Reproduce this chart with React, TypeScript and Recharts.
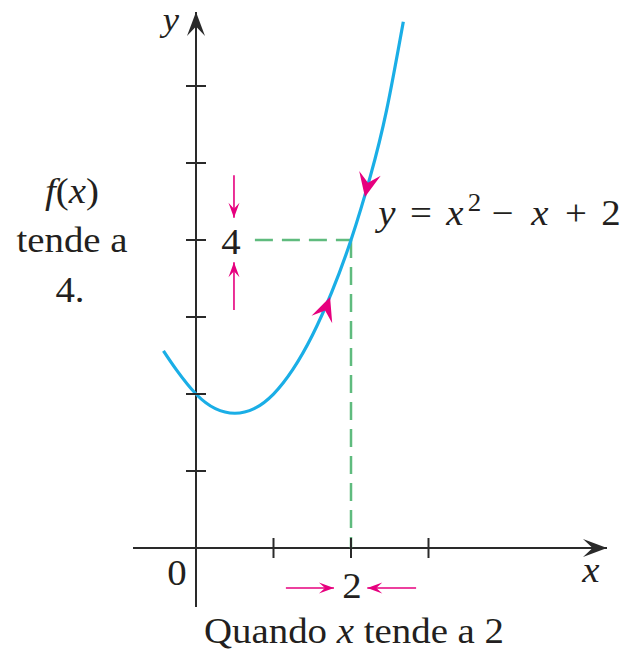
import React from "react";
import { LineChart, Line, XAxis, YAxis, ReferenceLine, ReferenceDot } from "recharts";

// curve y = x^2 - x + 2
const curveX = [-0.42, -0.25, 0, 0.25, 0.5, 0.75, 1.0, 1.25, 1.5, 1.75, 2.0, 2.25, 2.46, 2.675];
const curveY = [2.56, 2.31, 2.0, 1.81, 1.75, 1.81, 2.0, 2.32, 2.76, 3.32, 4.0, 4.83, 5.69, 6.835];
const xTicks = [1, 2, 3];
const yTicks = [1, 2, 3, 4, 5, 6];
const limitX = 2;
const limitY = 4;
const guideStartX = 0.76;
// arrowheads on the curve: [x, y, angle]
const curveArrows: [number, number, number][] = [
  [1.73, 3.26, -70],
  [2.18, 4.56, 102],
];
// straight magenta arrows: [fromX, fromY, toX, toY, angle]
const pinkArrows: [number, number, number, number, number][] = [
  [0.49, 4.84, 0.49, 4.29, 90],
  [0.49, 3.09, 0.49, 3.71, -90],
  [1.16, -0.52, 1.78, -0.52, 0],
  [2.84, -0.52, 2.21, -0.52, 180],
];
const xDomain: [number, number] = [-0.8129, 5.3032];
const yDomain: [number, number] = [-0.766, 6.961];

const data = curveX.map((x, i) => ({ x, y: curveY[i] }));

const BLUE = "#1aaee6";
const PINK = "#e6007e";
const GREEN = "#5fbb7e";
const AXIS = "#2a2a2a";
const FONT = "Liberation Serif";

const head = (L: number, W: number, color: string, angle: number) => (p: any) => {
  const { cx, cy } = p;
  if (cx == null || cy == null) return <g />;
  return (
    <path
      d={`M0,0 L${-L},${-W / 2} L${-0.6 * L},0 L${-L},${W / 2} Z`}
      fill={color}
      transform={`translate(${cx},${cy}) rotate(${angle})`}
    />
  );
};

const tickShape = (vertical: boolean) => (p: any) => {
  const { cx, cy } = p;
  if (cx == null || cy == null) return <g />;
  return vertical ? (
    <line x1={cx} x2={cx} y1={cy - 10} y2={cy + 10} stroke={AXIS} strokeWidth={2} />
  ) : (
    <line x1={cx - 10} x2={cx + 10} y1={cy} y2={cy} stroke={AXIS} strokeWidth={2} />
  );
};

const T = ({ x, y, children, anchor = "middle", size = 36, italic = false }: any) => (
  <text
    transform={`translate(${x},${y}) scale(1.08,1)`}
    x={0}
    y={0}
    textAnchor={anchor}
    style={{ fontFamily: FONT, fontSize: size, fontStyle: italic ? "italic" : "normal" }}
    fill="#231f20"
  >
    {children}
  </text>
);

export default function App() {
  return (
    <div style={{ position: "absolute", left: 0, top: 0, width: 623, height: 653, background: "#fff" }}>
      <LineChart
        width={623}
        height={653}
        data={data}
        margin={{ top: 12, right: 16, bottom: 46, left: 133 }}
      >
        <XAxis dataKey="x" type="number" domain={xDomain} allowDataOverflow hide />
        <YAxis type="number" domain={yDomain} allowDataOverflow hide />
        <ReferenceLine y={0} stroke={AXIS} strokeWidth={2} ifOverflow="visible" />
        <ReferenceLine x={0} stroke={AXIS} strokeWidth={2} ifOverflow="visible" />
        <ReferenceDot x={xDomain[1]} y={0} r={0} ifOverflow="visible" shape={head(24, 18, AXIS, 0)} />
        <ReferenceDot x={0} y={yDomain[1]} r={0} ifOverflow="visible" shape={head(24, 18, AXIS, -90)} />
        {xTicks.map((t) => (
          <ReferenceDot key={"xt" + t} x={t} y={0} r={0} ifOverflow="visible" shape={tickShape(true)} />
        ))}
        {yTicks.map((t) => (
          <ReferenceDot key={"yt" + t} x={0} y={t} r={0} ifOverflow="visible" shape={tickShape(false)} />
        ))}
        <ReferenceLine
          segment={[{ x: guideStartX, y: limitY }, { x: limitX, y: limitY }]}
          stroke={GREEN}
          strokeWidth={2.5}
          strokeDasharray="18 9"
          ifOverflow="visible"
        />
        <ReferenceLine
          segment={[{ x: limitX, y: limitY }, { x: limitX, y: 0 }]}
          stroke={GREEN}
          strokeWidth={2.5}
          strokeDasharray="18 9"
          ifOverflow="visible"
        />
        <Line
          dataKey="y"
          type="natural"
          stroke={BLUE}
          strokeWidth={3.2}
          dot={false}
          activeDot={false}
          isAnimationActive={false}
        />
        {curveArrows.map(([x, y, a], i) => (
          <ReferenceDot key={"ca" + i} x={x} y={y} r={0} ifOverflow="visible" shape={head(24, 22, PINK, a)} />
        ))}
        {pinkArrows.map(([x1, y1, x2, y2], i) => (
          <ReferenceLine
            key={"pl" + i}
            segment={[{ x: x1, y: y1 }, { x: x2, y: y2 }]}
            stroke={PINK}
            strokeWidth={1.6}
            ifOverflow="visible"
          />
        ))}
        {pinkArrows.map(([, , x2, y2, a], i) => (
          <ReferenceDot key={"ph" + i} x={x2} y={y2} r={0} ifOverflow="visible" shape={head(15, 11, PINK, a)} />
        ))}
      </LineChart>
      <svg
        width={623}
        height={653}
        style={{ position: "absolute", left: 0, top: 0, pointerEvents: "none" }}
      >
        <T x={171} y={31} size={34} italic>y</T>
        <T x={591} y={582} italic>x</T>
        <T x={177} y={585}>0</T>
        <T x={352} y={598}>2</T>
        <T x={231} y={254}>4</T>
        <T x={72} y={203}>
          <tspan style={{ fontStyle: "italic" }}>f</tspan>(<tspan style={{ fontStyle: "italic" }}>x</tspan>)
        </T>
        <T x={72} y={252}>tende a</T>
        <T x={70} y={302}>4.</T>
        <T x={387} y={225} italic>y</T>
        <T x={421} y={225}>=</T>
        <T x={455} y={225} italic>x</T>
        <T x={474.5} y={211} size={25}>2</T>
        <T x={502.5} y={225}>−</T>
        <T x={540} y={225} italic>x</T>
        <T x={576} y={225}>+</T>
        <T x={611} y={225}>2</T>
        <T x={204} y={643} anchor="start">
          Quando <tspan style={{ fontStyle: "italic" }}>x</tspan> tende a 2
        </T>
      </svg>
    </div>
  );
}
